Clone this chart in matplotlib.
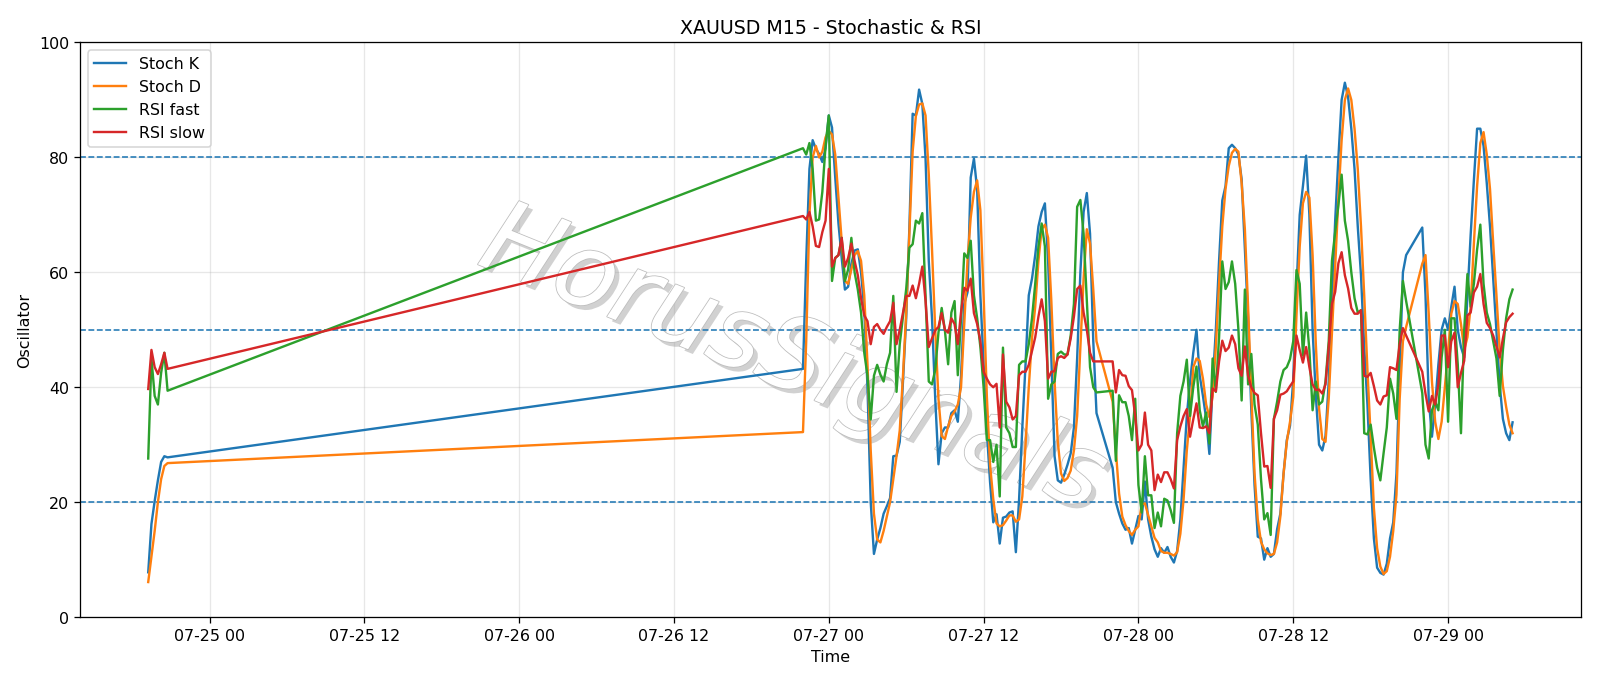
import pandas as pd
import matplotlib.pyplot as plt
import matplotlib.dates as mdates
import matplotlib.patheffects as pe

# blocks of M15 bars: (first bar, number of bars)
segments = [
    ("2025-07-24 19:15", 7),
    ("2025-07-26 22:00", 92),
    ("2025-07-27 22:00", 92),
    ("2025-07-28 22:00", 29),
]

stoch_k = [
    7.8, 16.2, 20.2, 23.8, 27.0, 28.0, 27.8,
    # 07-26 22:00 -> 07-27 20:45
    43.2, 62, 78, 83, 81.5, 80.6, 79.2, 81.6,
    87.3, 85.2, 76.5, 68.5, 62.5, 57, 57.5, 61.5,
    63.8, 64, 60, 53.5, 40, 20, 11, 13.5,
    15.5, 18, 19.3, 20.7, 28, 28.1, 30.5, 41,
    52, 68, 87.6, 87.3, 91.8, 89.3, 79.8, 62,
    52, 38, 26.6, 32, 33, 33, 35.5, 36,
    34, 42, 54.5, 56.5, 76.5, 79.8, 74.4, 56,
    44, 32.5, 23.5, 16.5, 17.9, 12.8, 17.3, 17.5,
    18.2, 18.4, 11.3, 20.5, 33, 44, 56, 58.9,
    63, 68, 70.5, 72, 62, 45, 28, 23.8,
    23.4, 24.8, 26.5, 28.5, 33, 45, 60, 70.5,
    73.8, 66.7, 48, 35.5,
    # 07-27 22:00 -> 07-28 20:45
    26, 20, 18, 16.3, 15.2, 15.5, 12.8, 15.2,
    17.6, 17, 23.6, 17, 14, 11.8, 10.5, 12,
    11.2, 12.2, 10.5, 9.5, 11.5, 17, 26, 35,
    41, 46, 50, 42, 38.5, 34.5, 28.4, 40.4,
    50, 62, 72.5, 75, 81.6, 82.2, 81.6, 80.5,
    76.2, 64, 52, 36, 23, 14, 13.7, 10,
    12, 10.5, 11, 15.3, 18, 25, 30.8, 33.3,
    41.4, 57, 70, 75, 80.3, 70, 50, 38.5,
    30, 29, 31.5, 41, 55, 69, 80, 90,
    93, 90.5, 85, 78, 68, 59.5, 47, 37,
    24, 13.7, 8.6, 7.7, 7.4, 9.3, 13.7, 16.5,
    25, 43, 60, 63,
    # 07-28 22:00 -> 07-29 05:00
    67.8, 56, 38, 31.4, 37, 44, 50, 52,
    50, 54, 57.5, 50, 47, 45.2, 56, 66.5,
    76, 85, 85, 82, 75.5, 68, 59, 49.7,
    40.5, 34.5, 32, 30.8, 33.9,
]

stoch_d = [
    6.1, 10.5, 15.0, 20.0, 24.0, 26.3, 26.8,
    32.2, 48, 70, 80, 82, 80, 81, 83.5,
    84.6, 84, 80.5, 73, 65.5, 58.5, 58, 60.5,
    63, 63.7, 62, 56, 44, 29, 18, 13.5,
    13, 15, 17.5, 20, 24, 28, 32.5, 42,
    53, 67, 81, 87.2, 89.2, 89.4, 87.3, 77,
    64, 50, 38, 31.5, 31, 33.2, 35, 35.8,
    37, 40, 51, 62, 69.5, 74, 76, 70.8,
    56, 38.5, 26.5, 20.5, 16.3, 15.8, 16, 16.8,
    17.7, 17.7, 16.6, 17, 21, 30, 40, 48.5,
    54, 62, 67.5, 68.3, 66, 55, 41, 30.5,
    25, 23.7, 24.2, 25.5, 29, 35, 47, 58.9,
    67.5, 65, 57, 48,
    37.5, 29, 21.5, 17.5, 16, 15, 14.3, 15.2,
    15.8, 19.6, 19.8, 17.8, 15.8, 13.8, 13, 11.5,
    11.2, 11.2, 11, 10.7, 11.3, 14.5, 20.5, 29,
    35, 43.5, 45, 44.6, 41.5, 37, 34.8, 38.5,
    47, 58, 68, 74.5, 78.5, 80.8, 81.5, 81,
    75.5, 67.5, 54, 39, 25, 17, 13.1, 11.8,
    11.1, 10.8, 11, 13, 17.5, 25, 30.5, 34,
    38.3, 52.5, 64.5, 72, 74, 73, 63, 47.5,
    36.3, 31, 30.5, 38, 49.5, 61, 73, 83,
    90, 92, 90, 85, 78, 68, 56, 43,
    31.5, 19, 12, 8.8, 7.5, 8, 10.5, 15,
    21.3, 38, 48, 50.5,
    61.5, 63, 52.8, 41, 34, 31, 34, 40,
    46.5, 52.8, 55, 54.5, 51, 46.5, 48.7, 54,
    65, 75, 82.5, 84.4, 80.5, 74.5, 65, 56,
    46.5, 40.2, 36.6, 33.5, 32,
]

rsi_fast = [
    27.6, 45.0, 38.5, 37.0, 42.5, 46.0, 39.4,
    81.6, 80.5, 82.5, 78, 69, 69.2, 74, 82,
    87.3, 58.5, 62.5, 63, 66, 58.5, 60.5, 66,
    60, 57, 53, 46, 42, 34.4, 42, 43.9,
    42.2, 41, 44, 46, 55.9, 39.2, 47.5, 52.3,
    57.1, 64.3, 64.9, 69, 68.5, 70.3, 55.9, 41,
    40.5, 43, 49.5, 53.8, 49.9, 44, 53, 55,
    42.1, 52, 63.3, 62.5, 65.5, 56, 52, 47,
    40, 30.8, 30.8, 27, 30, 21, 46.9, 33,
    32, 29.6, 29.6, 43.9, 44.5, 44.5, 47.5, 52,
    58, 64.5, 68.5, 64.5, 38, 40.5, 41, 45.8,
    46.2, 45.7, 45.7, 49, 54.5, 71.4, 72.6, 66.7,
    55, 43.5, 40, 39.1,
    39.4, 27.2, 38.6, 37.4, 37.4, 35, 30.8, 38,
    23, 18.2, 28, 21.2, 21.2, 15.5, 18.2, 15.8,
    20.6, 20.3, 18.6, 16.4, 32, 38.5, 41, 44.8,
    35, 40, 43.6, 36, 33.2, 35.6, 30.2, 45,
    39.2, 48.7, 61.9, 57.1, 58.3, 61.9, 58, 50,
    37.7, 57, 40.5, 45.8, 37, 33.5, 24, 17,
    18.1, 14.3, 34.5, 37.5, 41, 43, 43.5, 44.9,
    48, 60.4, 58, 45.5, 53, 46.5, 36, 41,
    37, 37.5, 41, 48, 62, 67, 71.7, 77,
    69, 65.5, 60, 55.5, 53, 53.4, 32, 31.8,
    33.5, 29.5, 26, 23.8, 28.5, 33, 41.5, 38.9,
    34.5, 50, 58.5, 55,
    39, 30, 27.6, 36, 37.5, 36, 45.2, 50,
    34, 52, 52, 44, 32, 50, 59.7, 54,
    58, 64, 68.3, 58, 53, 51, 48, 45,
    38.5, 46.5, 52, 55.3, 57,
]

rsi_slow = [
    39.7, 46.5, 43.5, 42.3, 44.0, 46.0, 43.2,
    69.8, 69.2, 70.5, 68, 64.6, 64.4, 67, 69,
    78, 61, 62.5, 63, 66, 61, 62.5, 65,
    62, 59.5, 55.5, 52.5, 51.5, 47.5, 50.5, 51,
    50, 49.3, 50.5, 51.5, 54.7, 47.5, 50, 53,
    55.9, 55.9, 57.7, 55.5, 58, 61, 55, 47,
    48.5, 49.9, 50.5, 52.9, 50, 49.5, 52, 51,
    47.5, 53, 57.3, 56.8, 58.9, 52.9, 51, 48,
    42.7, 41.5, 40.5, 40, 40.6, 33, 45.7, 37.5,
    36.5, 34.4, 35, 42.1, 42.7, 42.7, 43.9, 46.3,
    48.7, 52.3, 55.3, 51.5, 41.5, 42.7, 42.8, 45.1,
    45.4, 45.1, 45.7, 48.5, 52.3, 57.1, 57.7, 53,
    50, 46, 44.5, 44.5,
    44.5, 39.1, 43, 42.1, 42, 40.2, 39.5, 35,
    29, 30, 35.6, 30, 29, 22.1, 24.8, 23.5,
    25.2, 25.2, 24, 22.4, 30.8, 33.2, 35, 36.2,
    31.4, 34.4, 37.2, 33, 32.9, 33.2, 32, 39.8,
    39.3, 44.5, 48.1, 46.3, 46.9, 49, 47.5, 43.3,
    42, 47.1, 42, 40, 39, 38.6, 32, 26.2,
    26.3, 22.5, 34.5, 36, 38.7, 38.9, 39.3, 40.2,
    41, 49, 46.5, 44.3, 47, 43.5, 40.5, 39.5,
    39.6, 38.9, 40.5, 47, 54.5, 56.6, 61.6, 63.5,
    59.5, 57.2, 53.8, 52.8, 52.8, 53.4, 42, 41.8,
    42.5, 40.2, 37.7, 37, 38.4, 38.6, 43.5, 43.3,
    43, 47.5, 50.3, 49,
    42.7, 38.9, 35.8, 38.5, 37, 40.5, 49, 49,
    43.5, 48, 49.5, 40, 42.5, 44.6, 52.5, 53,
    56.5, 57.5, 59.7, 54.5, 51.2, 50.3, 49, 47.1,
    45.2, 48.5, 51.3, 52.2, 52.8,
]

levels = [20, 50, 80]

times = pd.DatetimeIndex([])
for start, n in segments:
    times = times.append(pd.date_range(start, periods=n, freq="15min"))

df = pd.DataFrame({
    "Stoch K": stoch_k,
    "Stoch D": stoch_d,
    "RSI fast": rsi_fast,
    "RSI slow": rsi_slow,
}, index=times)

fig, ax = plt.subplots(figsize=(14, 6), dpi=1600 / 14)

for col in df.columns:
    ax.plot(df.index, df[col], label=col, zorder=3)

for lvl in levels:
    ax.axhline(lvl, linestyle="--", linewidth=1, color="C0", zorder=2)

ax.set_ylim(0, 100)
ax.xaxis.set_major_locator(mdates.HourLocator(byhour=[0, 12]))
ax.xaxis.set_major_formatter(mdates.DateFormatter("%m-%d %H"))
ax.grid(True, alpha=0.3)

ax.set_title("XAUUSD M15 - Stochastic & RSI")
ax.set_xlabel("Time")
ax.set_ylabel("Oscillator")
ax.legend(loc="upper left")

# watermark
ax.text(0.475, 0.445, "HorusSignals", transform=ax.transAxes,
        fontsize=64, style="italic", rotation=-22,
        ha="center", va="center", color="white", zorder=1.8,
        path_effects=[pe.SimplePatchShadow(offset=(3, -3), shadow_rgbFace="#9a9a9a", alpha=0.45),
                      pe.Stroke(linewidth=1.0, foreground="#bdbdbd"),
                      pe.Normal()])

fig.subplots_adjust(left=0.05, right=0.988, top=0.937, bottom=0.099)
fig.savefig("out.png")
plt.close()
